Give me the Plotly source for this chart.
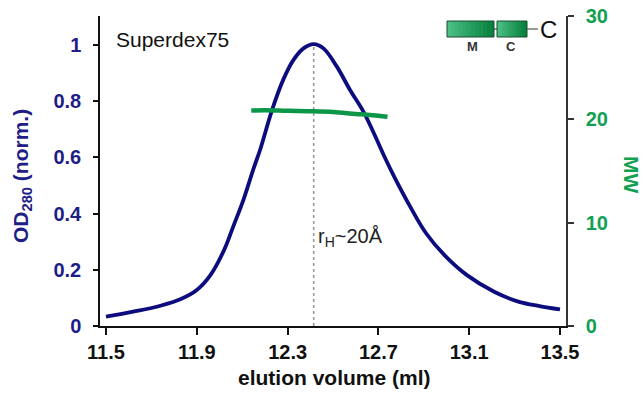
import plotly.graph_objects as go

# ---- data ----
elution_ml = [11.5, 11.62, 11.74, 11.83, 11.9, 11.96, 12.02, 12.06, 12.105, 12.15, 12.18,
              12.23, 12.28, 12.326, 12.37, 12.415, 12.458, 12.517, 12.575, 12.634, 12.68,
              12.73, 12.77, 12.84, 12.91, 12.99, 13.09, 13.21, 13.32, 13.41, 13.5]
od280_norm = [0.033, 0.051, 0.072, 0.096, 0.128, 0.181, 0.27, 0.353, 0.448, 0.56, 0.63,
              0.765, 0.875, 0.947, 0.988, 1.003, 0.988, 0.923, 0.84, 0.763, 0.686,
              0.597, 0.531, 0.425, 0.33, 0.253, 0.181, 0.122, 0.086, 0.071, 0.059]

mw_x = [12.14, 12.2, 12.3, 12.4, 12.5, 12.6, 12.65, 12.7, 12.74]
mw_kda = [20.85, 20.88, 20.82, 20.78, 20.7, 20.52, 20.45, 20.35, 20.25]

peak_x = [12.415, 12.415]
peak_y = [0.0, 1.0]

x_ticks = [11.5, 11.9, 12.3, 12.7, 13.1, 13.5]
y_ticks = [0, 0.2, 0.4, 0.6, 0.8, 1]
y2_ticks = [0, 10, 20, 30]

NAVY = "#0c0c7e"
NAVY_T = "#1e1e86"
GREEN = "#0c9648"
GREEN_T = "#12a052"
FONT = "Liberation Sans, Arial, sans-serif"

W, H = 644, 395
L, R, T, B = 100, 566, 16, 326

fig = go.Figure()
fig.add_trace(go.Scatter(x=peak_x, y=peak_y, mode="lines",
                         line=dict(color="#9a9a9a", width=1.6, dash="dot"),
                         hoverinfo="skip", showlegend=False))
fig.add_trace(go.Scatter(x=elution_ml, y=od280_norm, mode="lines",
                         line=dict(color=NAVY, width=3.8, shape="spline"),
                         showlegend=False))
fig.add_trace(go.Scatter(x=mw_x, y=mw_kda, mode="lines", yaxis="y2",
                         line=dict(color=GREEN, width=4.5, shape="spline"),
                         showlegend=False))

px_per_ml = (560 - 106) / 2.0
x0 = 11.5 - (106 - L) / px_per_ml
x1 = 13.5 + (R - 560) / px_per_ml
y_top = (B - T) / (B - 45)


def px(xp):
    return (xp - L) / (R - L)


def py(yp):
    return (B - yp) / (B - T)


shapes = []


def grad_box(xa, xb, ya, yb, n=12):
    c0 = (0x4a, 0xc0, 0x84)
    c1 = (0x06, 0x80, 0x3c)
    for i in range(n):
        f = i / (n - 1)
        col = "rgb(%d,%d,%d)" % tuple(int(c0[k] + (c1[k] - c0[k]) * f) for k in range(3))
        shapes.append(dict(type="rect", xref="paper", yref="paper",
                           x0=px(xa + (xb - xa) * i / n), x1=px(min(xb, xa + (xb - xa) * (i + 1) / n + 0.5)),
                           y0=py(yb), y1=py(ya), fillcolor=col, line=dict(width=0), layer="above"))
    shapes.append(dict(type="rect", xref="paper", yref="paper", x0=px(xa), x1=px(xb),
                       y0=py(yb), y1=py(ya), line=dict(color="#1f4a30", width=1), layer="above"))


grad_box(447, 494, 21, 37)
grad_box(497, 527, 21, 37)
shapes.append(dict(type="line", xref="paper", yref="paper", x0=px(494), x1=px(497),
                   y0=py(29), y1=py(29), line=dict(color="#333", width=1)))
shapes.append(dict(type="line", xref="paper", yref="paper", x0=px(527), x1=px(538),
                   y0=py(29), y1=py(29), line=dict(color="#555", width=1.2)))

annotations = [
    dict(text="Superdex75", x=px(114), y=py(39), xref="paper", yref="paper",
         xanchor="left", yanchor="middle", showarrow=False,
         font=dict(family=FONT, size=21, color="#111")),
    dict(text="r<sub>H</sub>~20Å", x=px(316), y=py(238), xref="paper", yref="paper",
         xanchor="left", yanchor="middle", showarrow=False,
         font=dict(family=FONT, size=20, color="#222")),
    dict(text="C", x=px(548), y=py(29), xref="paper", yref="paper",
         xanchor="center", yanchor="middle", showarrow=False,
         font=dict(family=FONT, size=24, color="#111")),
    dict(text="M", x=px(472), y=py(47), xref="paper", yref="paper",
         xanchor="center", yanchor="middle", showarrow=False,
         font=dict(family=FONT, size=13, color="#333", weight="bold")),
    dict(text="C", x=px(511), y=py(47), xref="paper", yref="paper",
         xanchor="center", yanchor="middle", showarrow=False,
         font=dict(family=FONT, size=13, color="#333", weight="bold")),
    dict(text="OD<sub>280</sub> (norm.)", x=px(22), y=py(176), xref="paper", yref="paper",
         xanchor="center", yanchor="middle", showarrow=False, textangle=-90,
         font=dict(family=FONT, size=21, color=NAVY_T, weight="bold")),
    dict(text="MW", x=px(632), y=py(174), xref="paper", yref="paper",
         xanchor="center", yanchor="middle", showarrow=False, textangle=90,
         font=dict(family=FONT, size=21, color=GREEN_T, weight="bold")),
    dict(text="elution volume (ml)", x=px(334), y=py(377), xref="paper", yref="paper",
         xanchor="center", yanchor="middle", showarrow=False,
         font=dict(family=FONT, size=21, color="#111", weight="bold")),
]

fig.update_layout(
    width=W, height=H,
    margin=dict(l=L, r=W - R, t=T, b=H - B, pad=0, autoexpand=False),
    plot_bgcolor="white", paper_bgcolor="white",
    xaxis=dict(range=[x0, x1], tickvals=x_ticks, ticktext=[f"{v:.1f}" for v in x_ticks],
               showgrid=False, zeroline=False, showline=True, linecolor="#111", linewidth=1.5,
               ticks="outside", ticklen=7, tickwidth=1.5, tickcolor="#111", automargin=False,
               tickfont=dict(family=FONT, size=20, color="#111", weight="bold")),
    yaxis=dict(range=[0, y_top], tickvals=y_ticks, ticktext=[f"{v:g}" for v in y_ticks],
               showgrid=False, zeroline=False, showline=True, linecolor="#111", linewidth=1.5,
               ticks="outside", ticklen=5, tickwidth=1.5, tickcolor="#111", automargin=False,
               ticklabelstandoff=8,
               tickfont=dict(family=FONT, size=20, color=NAVY_T, weight="bold")),
    yaxis2=dict(range=[0, 30], tickvals=y2_ticks, overlaying="y", side="right", anchor="x",
                showgrid=False, zeroline=False, showline=True, linecolor="#333", linewidth=1.5,
                ticks="outside", ticklen=6, tickwidth=1.5, tickcolor="#333", automargin=False,
                ticklabelstandoff=8,
                tickfont=dict(family=FONT, size=20, color=GREEN_T, weight="bold")),
    shapes=shapes, annotations=annotations, showlegend=False,
)

fig.write_html(
    "out.html",
    config={"displayModeBar": False},
    post_script="document.body.style.margin='0';document.body.style.overflow='hidden';",
)
